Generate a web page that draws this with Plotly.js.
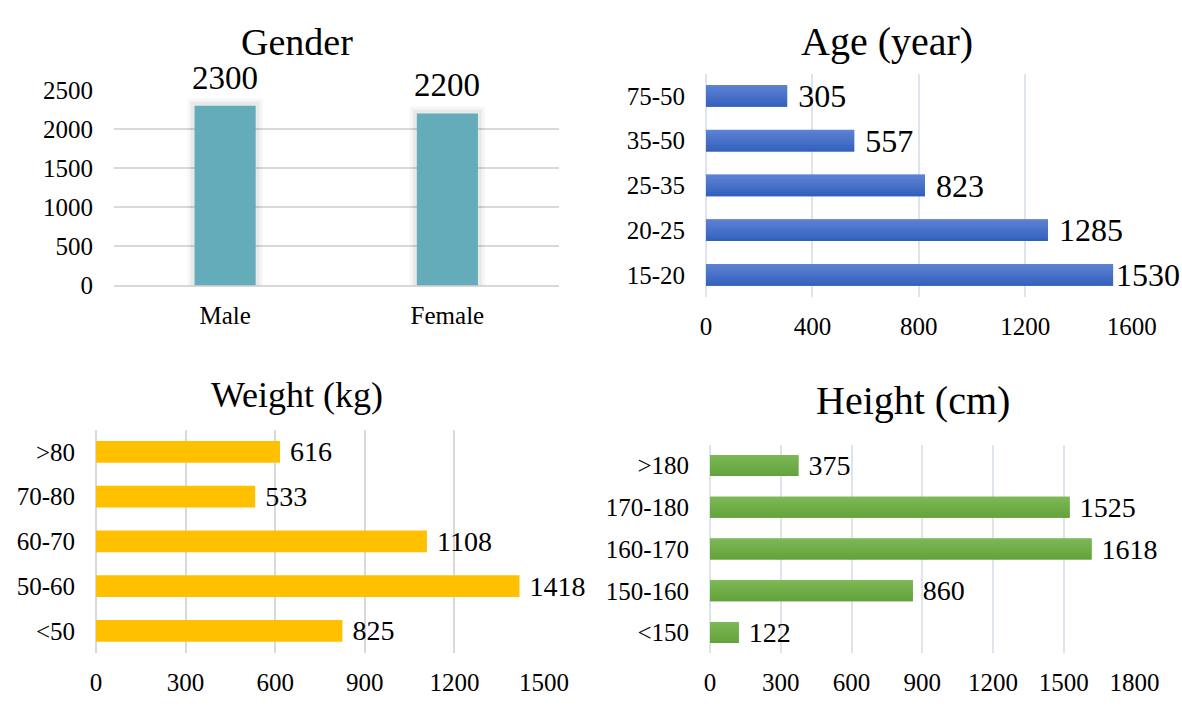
<!DOCTYPE html>
<html>
<head>
<meta charset="utf-8">
<script src="https://cdn.plot.ly/plotly-3.0.1.min.js"></script>
<style>
  html, body { margin: 0; padding: 0; background: #fff; }
  #grafico { width: 1182px; height: 709px; }
</style>
</head>
<body>
<div id="grafico"></div>
<script>
// data
const genero = ['Male', 'Female'];
const generoN = [2300, 2200];

const idades = ['15-20', '20-25', '25-35', '35-50', '75-50'];
const idadesN = [1530, 1285, 823, 557, 305];

const pesos = ['<50', '50-60', '60-70', '70-80', '>80'];
const pesosN = [825, 1418, 1108, 533, 616];

const alturas = ['<150', '150-160', '160-170', '170-180', '>180'];
const alturasN = [122, 860, 1618, 1525, 375];

const FONTE = 'Liberation Serif, Times New Roman, serif';
const W = 1182, H = 709;
const px = v => v / W;          // x pixel -> paper
const py = v => 1 - v / H;      // y pixel -> paper
const NB = '\u00A0';

// label next to the bar end; Excel drops the gap when the label would leave the chart
const rotulo = (vals, max) => vals.map(v => (v / max > 0.95 ? '' : NB) + v);

const gridCinza = '#D9D9D9';
const gridAzul = '#DEE4EC';

function eixoValor(range, dtick, grid, dom, anc) {
  return {
    domain: dom, range: range, dtick: dtick, tick0: 0, anchor: anc,
    showgrid: true, gridcolor: grid, gridwidth: 2,
    zeroline: true, zerolinecolor: grid, zerolinewidth: 2,
    showline: false, ticks: '', ticklabelstandoff: 12,
    tickfont: { family: FONTE, size: 25, color: '#000' },
    fixedrange: true
  };
}
function eixoCat(dom, anc) {
  return {
    domain: dom, type: 'category', showgrid: false, zeroline: false, anchor: anc,
    showline: false, ticks: '', ticklabelstandoff: 20,
    tickfont: { family: FONTE, size: 25, color: '#000' },
    fixedrange: true
  };
}

// soft glow behind the gender bars
const brilho = [14, 8].map((lw, k) => ({
  type: 'bar', x: genero, y: generoN, xaxis: 'x', yaxis: 'y',
  width: 0.275, marker: { color: 'rgba(0,0,0,0)', line: { color: 'rgba(0,0,0,' + (k ? 0.05 : 0.035) + ')', width: lw } },
  hoverinfo: 'skip', showlegend: false
}));

const tGenero = {
  type: 'bar', x: genero, y: generoN, xaxis: 'x', yaxis: 'y',
  width: 0.275, marker: { color: '#65ACBB' }, showlegend: false
};

function barraH(cats, vals, cor, max, ax, ay, larg, fs) {
  return {
    type: 'bar', orientation: 'h', y: cats, x: vals, xaxis: ax, yaxis: ay,
    width: larg, marker: { color: cor },
    text: rotulo(vals, max), textposition: 'outside', cliponaxis: false,
    constraintext: 'none',
    textfont: { family: FONTE, size: fs, color: '#000' },
    showlegend: false
  };
}

// vertical gradient faked with thin stacked bands (bottom colour -> top colour)
function faixas(cats, vals, ax, ay, larg, de, ate, n) {
  const mix = t => 'rgb(' + de.map((c, j) => Math.round(c + (ate[j] - c) * t)).join(',') + ')';
  const out = [];
  for (let k = 0; k < n; k++) {
    out.push({
      type: 'bar', orientation: 'h', y: cats, x: vals, xaxis: ax, yaxis: ay,
      width: larg / n + 0.002, offset: -larg / 2 + k * larg / n,
      marker: { color: mix(k / (n - 1)), line: { width: 0 } },
      hoverinfo: 'skip', showlegend: false
    });
  }
  return out;
}

const tIdade = barraH(idades, idadesN, '#4672C8', 1600, 'x2', 'y2', 0.485, 32);
const tPeso = barraH(pesos, pesosN, '#FFC000', 1500, 'x3', 'y3', 0.485, 28);
const tAltura = barraH(alturas, alturasN, '#70AD47', 1800, 'x4', 'y4', 0.5, 28);

const fIdade = faixas(idades, idadesN, 'x2', 'y2', 0.485, [50, 96, 189], [94, 130, 210], 10);
const fAltura = faixas(alturas, alturasN, 'x4', 'y4', 0.5, [100, 163, 59], [124, 184, 86], 10);

const titulo = (txt, x, y, fs) => ({
  text: txt, xref: 'paper', yref: 'paper', x: px(x), y: py(y),
  xanchor: 'center', yanchor: 'middle', showarrow: false,
  font: { family: FONTE, size: fs, color: '#000' }
});

const anotGenero = genero.map((g, i) => ({
  x: g, y: generoN[i], xref: 'x', yref: 'y', text: String(generoN[i]),
  xanchor: 'center', yanchor: 'bottom', yshift: 8, showarrow: false,
  font: { family: FONTE, size: 33, color: '#000' }
}));

const yG = eixoValor([0, 2500], 500, gridCinza, [py(285.5), py(90)], 'x');
yG.ticklabelstandoff = 20;
const xG = eixoCat([px(114), px(558.5)], 'y');
xG.ticklabelstandoff = 12;

const layout = {
  width: W, height: H,
  margin: { l: 0, r: 0, t: 0, b: 0 },
  paper_bgcolor: '#fff', plot_bgcolor: '#fff',
  barmode: 'overlay', showlegend: false,
  font: { family: FONTE, color: '#000' },
  xaxis: xG,
  yaxis: yG,
  xaxis2: eixoValor([0, 1600], 400, gridAzul, [px(706), px(1131.7)], 'y2'),
  yaxis2: eixoCat([py(297.4), py(73.6)], 'x2'),
  xaxis3: eixoValor([0, 1500], 300, gridCinza, [px(96), px(544)], 'y3'),
  yaxis3: eixoCat([py(653.2), py(429.6)], 'x3'),
  xaxis4: eixoValor([0, 1800], 300, gridAzul, [px(710), px(1134.5)], 'y4'),
  yaxis4: eixoCat([py(653.4), py(444.6)], 'x4'),
  annotations: [
    titulo('Gender', 297, 42, 38),
    titulo('Age (year)', 887, 41.5, 40),
    titulo('Weight (kg)', 297, 395, 36),
    titulo('Height (cm)', 912.6, 400, 40)
  ].concat(anotGenero)
};

const traces = brilho.concat([tGenero, tIdade], fIdade, [tPeso, tAltura], fAltura);
Plotly.newPlot('grafico', traces, layout, { staticPlot: true, displayModeBar: false });
</script>
</body>
</html>
